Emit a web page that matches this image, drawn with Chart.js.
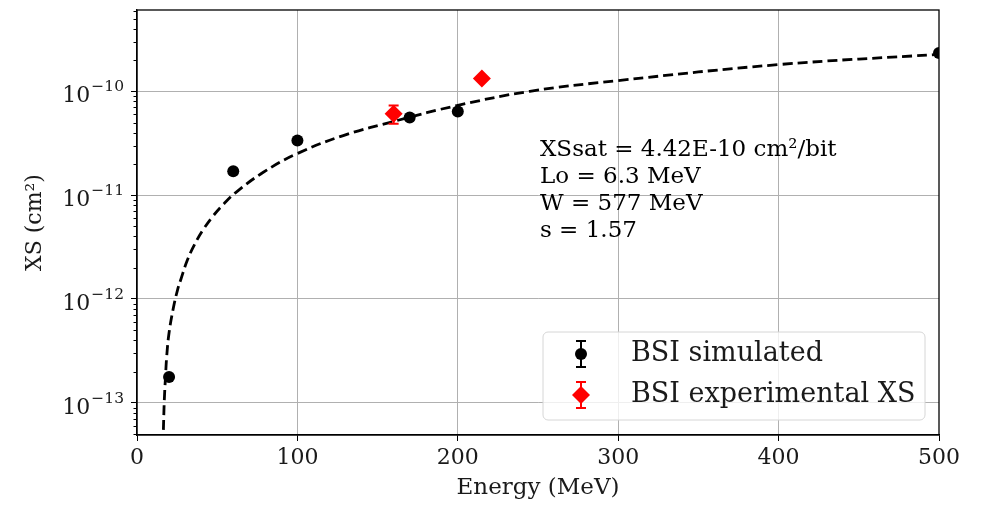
<!DOCTYPE html>
<html>
<head>
<meta charset="utf-8">
<title>BSI cross section vs energy</title>
<script src="https://cdn.jsdelivr.net/npm/chart.js@4/dist/chart.umd.min.js"></script>
<style>
    html, body { margin: 0; padding: 0; background: #fff; }
    #chart { display: block; }
</style>
</head>
<body>
<canvas id="chart" width="981" height="505"></canvas>
<script>
// --- data ---
const simEnergy = [20, 60, 100, 170, 200, 500];
const simXS = [1.77e-13, 1.70e-11, 3.36e-11, 5.6e-11, 6.4e-11, 2.34e-10];

const expEnergy = [160, 215];
const expXS = [6.07e-11, 1.33e-10];
const expLow = [4.87e-11, 1.30e-10];
const expHigh = [7.29e-11, 1.36e-10];

// dashed Weibull fit, sampled along the drawn curve
const fitEnergy = [16.15, 16.4, 17.02, 17.77, 18.52, 19.95, 22.63, 25.37, 27.43, 31.36, 36.16, 41.33, 47.57,
                   54.24, 61.53, 78.74, 99.56, 128.6, 161.9, 199.4, 244.9, 299.7, 400.2, 500];
const fitXS = [3.92e-14, 5.12e-14, 1.06e-13, 1.77e-13, 2.81e-13, 4.68e-13, 8.14e-13, 1.24e-12, 1.56e-12, 2.36e-12,
               3.41e-12, 4.67e-12, 6.34e-12, 8.28e-12, 1.06e-11, 1.66e-11, 2.50e-11, 3.75e-11, 5.22e-11, 7.29e-11,
               1.0e-10, 1.268e-10, 1.81e-10, 2.27e-10];

const xTicks = [0, 100, 200, 300, 400, 500];
const yTicks = [1e-13, 1e-12, 1e-11, 1e-10];
const yTickBase = '10';
const yTickExp = ['−13', '−12', '−11', '−10'];
const minorSteps = [2, 3, 4, 5, 6, 7, 8, 9];

const fitText = ['XSsat = 4.42E-10 cm²/bit', 'Lo = 6.3 MeV', 'W = 577 MeV', 's = 1.57'];
const legendLabels = ['BSI simulated', 'BSI experimental XS'];

const SERIF = '"DejaVu Serif", serif';
const TEXT = '#1a1a1a';
const toPts = (xs, ys) => xs.map((x, i) => ({ x: x, y: ys[i] }));

// -----------------------------------------------------------------------------
// extras: frame, y labels, minor ticks, error bars, annotation, legend
// -----------------------------------------------------------------------------
const extrasPlugin = {
    id: 'extras',
    afterDatasetsDraw(chart) {
        const ctx = chart.ctx;
        const x = chart.scales.x, y = chart.scales.y;

        // error bars for the experimental points
        ctx.save();
        ctx.strokeStyle = '#ff0000';
        ctx.lineWidth = 2;
        expEnergy.forEach((e, i) => {
            const px = x.getPixelForValue(e);
            const top = y.getPixelForValue(expHigh[i]);
            const bot = y.getPixelForValue(expLow[i]);
            ctx.beginPath();
            ctx.moveTo(px, top); ctx.lineTo(px, bot);
            ctx.moveTo(px - 5, top); ctx.lineTo(px + 5, top);
            ctx.moveTo(px - 5, bot); ctx.lineTo(px + 5, bot);
            ctx.stroke();
        });
        ctx.restore();
    },
    afterDraw(chart) {
        const ctx = chart.ctx;
        const a = chart.chartArea;
        const y = chart.scales.y;

        ctx.save();
        // minor log ticks on the y axis
        ctx.strokeStyle = '#000';
        ctx.lineWidth = 1;
        for (let d = -14; d <= -10; d++) {
            minorSteps.forEach(k => {
                const v = k * Math.pow(10, d);
                if (v < y.min || v > y.max) return;
                const py = Math.round(y.getPixelForValue(v)) + 0.5;
                ctx.beginPath();
                ctx.moveTo(a.left - 3.5, py); ctx.lineTo(a.left, py);
                ctx.stroke();
            });
        }

        // y tick labels as 10 with a raised exponent
        ctx.fillStyle = TEXT;
        ctx.textAlign = 'right';
        ctx.textBaseline = 'alphabetic';
        yTicks.forEach((v, i) => {
            const py = y.getPixelForValue(v);
            const right = a.left - 13;
            ctx.font = '15.5px ' + SERIF;
            const ew = ctx.measureText(yTickExp[i]).width;
            ctx.fillText(yTickExp[i], right, py);
            ctx.font = '22px ' + SERIF;
            ctx.fillText(yTickBase, right - ew - 1, py + 11);
        });

        // full axes frame
        ctx.strokeStyle = '#000';
        ctx.lineWidth = 1.3;
        ctx.strokeRect(a.left, a.top, a.right - a.left, a.bottom - a.top);

        // fit parameters
        ctx.fillStyle = '#000';
        ctx.font = '23px ' + SERIF;
        ctx.textBaseline = 'middle';
        ctx.textAlign = 'left';
        fitText.forEach((t, i) => ctx.fillText(t, 540, 150 + i * 27));

        // legend box
        const bx = 543, by = 332, bw = 382, bh = 88, r = 5;
        ctx.beginPath();
        ctx.moveTo(bx + r, by);
        ctx.arcTo(bx + bw, by, bx + bw, by + bh, r);
        ctx.arcTo(bx + bw, by + bh, bx, by + bh, r);
        ctx.arcTo(bx, by + bh, bx, by, r);
        ctx.arcTo(bx, by, bx + bw, by, r);
        ctx.closePath();
        ctx.fillStyle = 'rgba(255,255,255,0.8)';
        ctx.fill();
        ctx.strokeStyle = '#d6d6d6';
        ctx.lineWidth = 1;
        ctx.stroke();

        const rows = [
            { y: 354, color: '#000', style: 'circle', radius: 6 },
            { y: 395, color: '#ff0000', style: 'rectRot', radius: 9 }
        ];
        rows.forEach((row, i) => {
            const mx = 581;
            ctx.strokeStyle = row.color;
            ctx.lineWidth = 2;
            ctx.beginPath();
            ctx.moveTo(mx, row.y - 13); ctx.lineTo(mx, row.y + 13);
            ctx.moveTo(mx - 5, row.y - 13); ctx.lineTo(mx + 5, row.y - 13);
            ctx.moveTo(mx - 5, row.y + 13); ctx.lineTo(mx + 5, row.y + 13);
            ctx.stroke();
            ctx.fillStyle = row.color;
            Chart.helpers.drawPoint(ctx, { pointStyle: row.style, radius: row.radius, borderWidth: 0 }, mx, row.y);
            ctx.fillStyle = TEXT;
            ctx.font = '27px ' + SERIF;
            ctx.fillText(legendLabels[i], 631, row.y);
        });
        ctx.restore();
    }
};

// -----------------------------------------------------------------------------
// chart
// -----------------------------------------------------------------------------
new Chart(document.getElementById('chart'), {
    type: 'scatter',
    data: {
        datasets: [
            {
                label: 'fit',
                type: 'line',
                data: toPts(fitEnergy, fitXS),
                borderColor: '#000',
                borderWidth: 2.8,
                borderDash: [10, 5],
                pointRadius: 0,
                tension: 0.4,
                fill: false,
                order: 3
            },
            {
                label: legendLabels[0],
                data: toPts(simEnergy, simXS),
                backgroundColor: '#000',
                borderWidth: 0,
                pointStyle: 'circle',
                pointRadius: 6,
                order: 2
            },
            {
                label: legendLabels[1],
                data: toPts(expEnergy, expXS),
                backgroundColor: '#ff0000',
                borderWidth: 0,
                pointStyle: 'rectRot',
                pointRadius: 9,
                order: 1
            }
        ]
    },
    options: {
        responsive: false,
        animation: false,
        layout: { padding: { top: 10, right: 42, left: 0, bottom: 0 } },
        plugins: {
            legend: { display: false },
            tooltip: { enabled: false }
        },
        scales: {
            x: {
                type: 'linear',
                min: 0,
                max: 500,
                afterBuildTicks: s => { s.ticks = xTicks.map(v => ({ value: v })); },
                afterFit: s => { s.height = 70; s.paddingLeft = 0; s.paddingRight = 0; },
                grid: {
                    color: c => (c.tick && (c.tick.value === 0 || c.tick.value === 500)) ? 'rgba(0,0,0,0)' : '#b0b0b0',
                    lineWidth: 1,
                    tickColor: '#000',
                    tickLength: 6
                },
                border: { color: '#000', width: 1.3 },
                ticks: {
                    color: TEXT,
                    font: { family: SERIF, size: 22 },
                    padding: 4,
                    maxRotation: 0
                },
                title: {
                    display: true,
                    text: 'Energy (MeV)',
                    color: TEXT,
                    font: { family: SERIF, size: 23 },
                    padding: { top: 0, bottom: 3 }
                }
            },
            y: {
                type: 'logarithmic',
                min: 4.9e-14,
                max: 6.07e-10,
                afterBuildTicks: s => { s.ticks = yTicks.map(v => ({ value: v })); },
                afterFit: s => { s.width = 137; s.paddingTop = 0; s.paddingBottom = 0; },
                grid: {
                    color: '#b0b0b0',
                    lineWidth: 1,
                    tickColor: '#000',
                    tickLength: 6
                },
                border: { color: '#000', width: 1.3 },
                ticks: { display: false },
                title: {
                    display: true,
                    text: 'XS (cm²)',
                    color: TEXT,
                    font: { family: SERIF, size: 22 },
                    padding: { top: 22, bottom: 0 }
                }
            }
        }
    },
    plugins: [extrasPlugin]
});
</script>
</body>
</html>
